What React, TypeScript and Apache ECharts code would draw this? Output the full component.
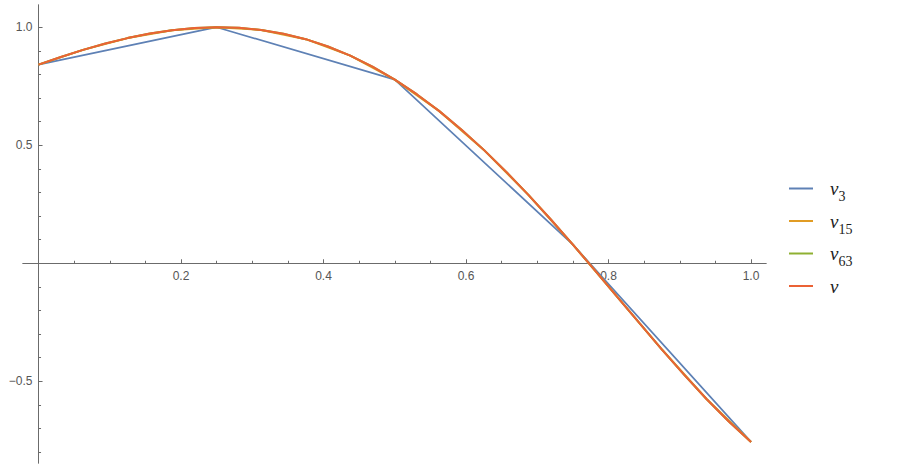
import React, { useEffect, useRef } from "react";
import * as echarts from "echarts";

const v3X = [0, 0.25, 0.5, 0.75, 1];
const v3Values = [0.8415, 1.0, 0.7781, 0.079, -0.7568];

const v15X = [0, 0.0625, 0.125, 0.1875, 0.25, 0.3125, 0.375, 0.4375, 0.5, 0.5625, 0.625, 0.6875, 0.75, 0.8125, 0.875, 0.9375, 1];
const v15Values = [0.8415, 0.9039, 0.9538, 0.9871, 1.0, 0.9885, 0.9493, 0.8797, 0.7781, 0.6444, 0.4803, 0.2897, 0.079, -0.1431, -0.3654, -0.5748, -0.7568];

const fineX = [
  0, 0.03125, 0.0625, 0.09375, 0.125, 0.15625, 0.1875, 0.21875, 0.25, 0.28125, 0.3125, 0.34375, 0.375, 0.40625, 0.4375,
  0.46875, 0.5, 0.53125, 0.5625, 0.59375, 0.625, 0.65625, 0.6875, 0.71875, 0.75, 0.78125, 0.8125, 0.84375, 0.875,
  0.90625, 0.9375, 0.96875, 1,
];
const v63Values = [
  0.8415, 0.874, 0.9039, 0.9307, 0.9538, 0.9729, 0.9871, 0.9964, 1.0, 0.9975, 0.9885, 0.9725, 0.9493, 0.9184, 0.8797,
  0.8329, 0.7781, 0.7152, 0.6444, 0.5659, 0.4803, 0.388, 0.2897, 0.1864, 0.079, -0.0313, -0.1431, -0.255, -0.3654,
  -0.4726, -0.5748, -0.6701, -0.7568,
];
const vValues = [
  0.8415, 0.874, 0.9039, 0.9307, 0.9538, 0.9729, 0.9871, 0.9964, 1.0, 0.9975, 0.9885, 0.9725, 0.9493, 0.9184, 0.8797,
  0.8329, 0.7781, 0.7152, 0.6444, 0.5659, 0.4803, 0.388, 0.2897, 0.1864, 0.079, -0.0313, -0.1431, -0.255, -0.3654,
  -0.4726, -0.5748, -0.6701, -0.7568,
];

const seriesNames = ["v3", "v15", "v63", "v"];
const seriesColors = ["#5E81B5", "#E19C24", "#8FB032", "#EB6235"];

const xMajorTicks = [0.2, 0.4, 0.6, 0.8, 1.0];
const xMinorTicks = [0.05, 0.1, 0.15, 0.25, 0.3, 0.35, 0.45, 0.5, 0.55, 0.65, 0.7, 0.75, 0.85, 0.9, 0.95];
const yMajorTicks = [-0.5, 0.5, 1.0];
const yMinorTicks = [-0.8, -0.7, -0.6, -0.4, -0.3, -0.2, -0.1, 0.1, 0.2, 0.3, 0.4, 0.6, 0.7, 0.8, 0.9];

const zip = (xs: number[], ys: number[]) => xs.map((x, i) => [x, ys[i]]);

const AXIS_COLOR = "#6b6b6b";
const LABEL_COLOR = "#555555";
const SERIF = "Liberation Serif";

export default function App() {
  const ref = useRef<HTMLDivElement>(null);
  useEffect(() => {
    if (!ref.current) return;
    document.body.style.margin = "0";
    const chart = echarts.init(ref.current, undefined, { renderer: "svg" });
    const W = 924;
    const H = 476;
    const gl = 23;
    const gr = 158;
    const gt = 5;
    const gb = 13;
    const xMin = -0.0218;
    const xMax = 1.021;
    const yMin = -0.846;
    const yMax = 1.094;
    const gw = W - gl - gr;
    const gh = H - gt - gb;
    const xOff = -((0 - yMin) / (yMax - yMin)) * gh;
    const yOff = -((0 - xMin) / (xMax - xMin)) * gw;
    const labelStyle = {
      color: LABEL_COLOR,
      fontSize: 12,
      fontFamily: "Liberation Sans",
    };
    const fmt = (v: number) => (v < 0 ? "\u2212" + Math.abs(v).toFixed(1) : v.toFixed(1));
    const dataSets = [zip(v3X, v3Values), zip(v15X, v15Values), zip(fineX, v63Values), zip(fineX, vValues)];
    const axisLine = { onZero: false, lineStyle: { color: AXIS_COLOR, width: 1 } };
    chart.setOption({
      animation: false,
      grid: { left: gl, right: gr, top: gt, bottom: gb, containLabel: false, outerBoundsMode: "none" },
      legend: {
        orient: "vertical",
        left: 784,
        top: 174,
        itemWidth: 24,
        itemHeight: 2,
        itemGap: 8,
        icon: "rect",
        data: seriesNames,
        formatter: (name: string) => (name === "v" ? "{i|v}" : `{i|v}{s|${name.slice(1)}}`),
        textStyle: {
          fontFamily: SERIF,
          padding: [0, 0, 0, 12],
          rich: {
            i: {
              fontFamily: SERIF,
              fontStyle: "italic",
              fontSize: 19,
              color: "#222",
              lineHeight: 22,
              verticalAlign: "middle",
            },
            s: {
              fontFamily: SERIF,
              fontSize: 14,
              color: "#222",
              lineHeight: 22,
              verticalAlign: "bottom",
              padding: [0, 0, -4, 0],
            },
          },
        },
      },
      xAxis: [
        {
          type: "value",
          min: xMin,
          max: xMax,
          position: "bottom",
          offset: xOff,
          axisLine,
          axisTick: { inside: true, length: 4, customValues: xMajorTicks, lineStyle: { color: AXIS_COLOR } },
          axisLabel: { ...labelStyle, margin: 7, customValues: xMajorTicks, formatter: fmt },
          splitLine: { show: false },
        },
        {
          type: "value",
          min: xMin,
          max: xMax,
          position: "bottom",
          offset: xOff,
          axisLine,
          axisTick: { inside: true, length: 2.5, customValues: xMinorTicks, lineStyle: { color: AXIS_COLOR } },
          axisLabel: { show: false },
          splitLine: { show: false },
        },
      ],
      yAxis: [
        {
          type: "value",
          min: yMin,
          max: yMax,
          position: "left",
          offset: yOff,
          axisLine,
          axisTick: { inside: true, length: 4, customValues: yMajorTicks, lineStyle: { color: AXIS_COLOR } },
          axisLabel: { ...labelStyle, margin: 6, customValues: yMajorTicks, formatter: fmt },
          splitLine: { show: false },
        },
        {
          type: "value",
          min: yMin,
          max: yMax,
          position: "left",
          offset: yOff,
          axisLine,
          axisTick: { inside: true, length: 2.5, customValues: yMinorTicks, lineStyle: { color: AXIS_COLOR } },
          axisLabel: { show: false },
          splitLine: { show: false },
        },
      ],
      series: seriesNames.map((name, i) => ({
        name,
        type: "line",
        data: dataSets[i],
        showSymbol: false,
        symbol: "none",
        color: seriesColors[i],
        lineStyle: { color: seriesColors[i], width: i === 0 ? 1.7 : 2 },
        z: 2 + i,
      })),
    });
    return () => chart.dispose();
  }, []);
  return <div ref={ref} style={{ width: 924, height: 476 }} />;
}
